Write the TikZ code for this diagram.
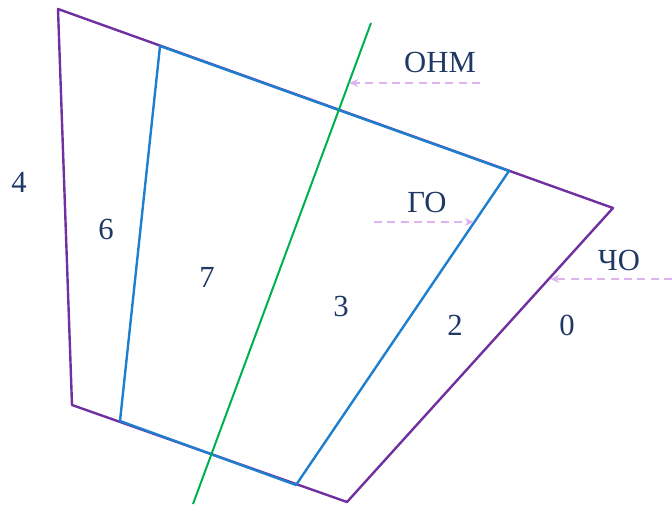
\documentclass[tikz,border=0pt]{standalone}
\usepackage{fontspec}
\setmainfont{Liberation Serif}
\usepackage{xcolor}
\usetikzlibrary{arrows.meta,positioning}

\definecolor{outline}{HTML}{7030A0}
\definecolor{zoneblue}{HTML}{1F7FCF}
\definecolor{axisgreen}{HTML}{00B050}
\definecolor{labelnavy}{HTML}{1F3864}
\definecolor{pointer}{HTML}{DDB4EE}

\begin{document}
\begin{tikzpicture}[
    x=0.75pt, y=-0.75pt,
    border/.style={draw=outline, line width=1.8pt, line join=round},
    zone/.style={draw=zoneblue, line width=1.8pt, line join=round},
    axis/.style={draw=axisgreen, line width=1.5pt},
    tag/.style={text=labelnavy, font=\fontsize{23}{27}\selectfont, inner sep=0pt},
    hint/.style={draw=pointer, line width=1pt, dash pattern=on 6pt off 4pt, -{Stealth[length=7pt,width=6pt]}}
]
\useasboundingbox (0,0) rectangle (672,506);

% outer contour
\coordinate (a) at (58,9);
\coordinate (b) at (613,208);
\coordinate (c) at (347,502);
\coordinate (d) at (72,405);
\draw [border] (a) -- (b) -- (c) -- (d) -- cycle;

% inner zone
\coordinate (p) at (160,46);
\coordinate (q) at (509,171);
\coordinate (r) at (296,485);
\coordinate (s) at (120,421);
\draw [zone] (p) -- (q) -- (r) -- (s) -- cycle;

% axis line
\coordinate (top) at (371,23);
\coordinate (bot) at (193,504);
\draw [axis] (top) -- (bot);

% labels
\node [tag] (ohm) at (440,62) {ОНМ};
\node [tag] (go) at (427,202) {ГО};
\node [tag] (cho) at (619,260) {ЧО};
\node [tag] (four) at (19,182) {4};
\node [tag] (six) at (106,229) {6};
\node [tag] (seven) at (207,277) {7};
\node [tag] (three) at (341,306) {3};
\node [tag] (two) at (455,325) {2};
\node [tag] (zero) at (567,325) {0};

% pointers
\coordinate (ohmfrom) at (480,83);
\coordinate (ohmto) at (349,83);
\coordinate (gofrom) at (374,222);
\coordinate (goto) at (474,222);
\coordinate (chofrom) at (672,279);
\coordinate (choto) at (550,279);
\draw [hint] (ohmfrom) -- (ohmto);
\draw [hint] (gofrom) -- (goto);
\draw [hint] (chofrom) -- (choto);

\end{tikzpicture}
\end{document}
